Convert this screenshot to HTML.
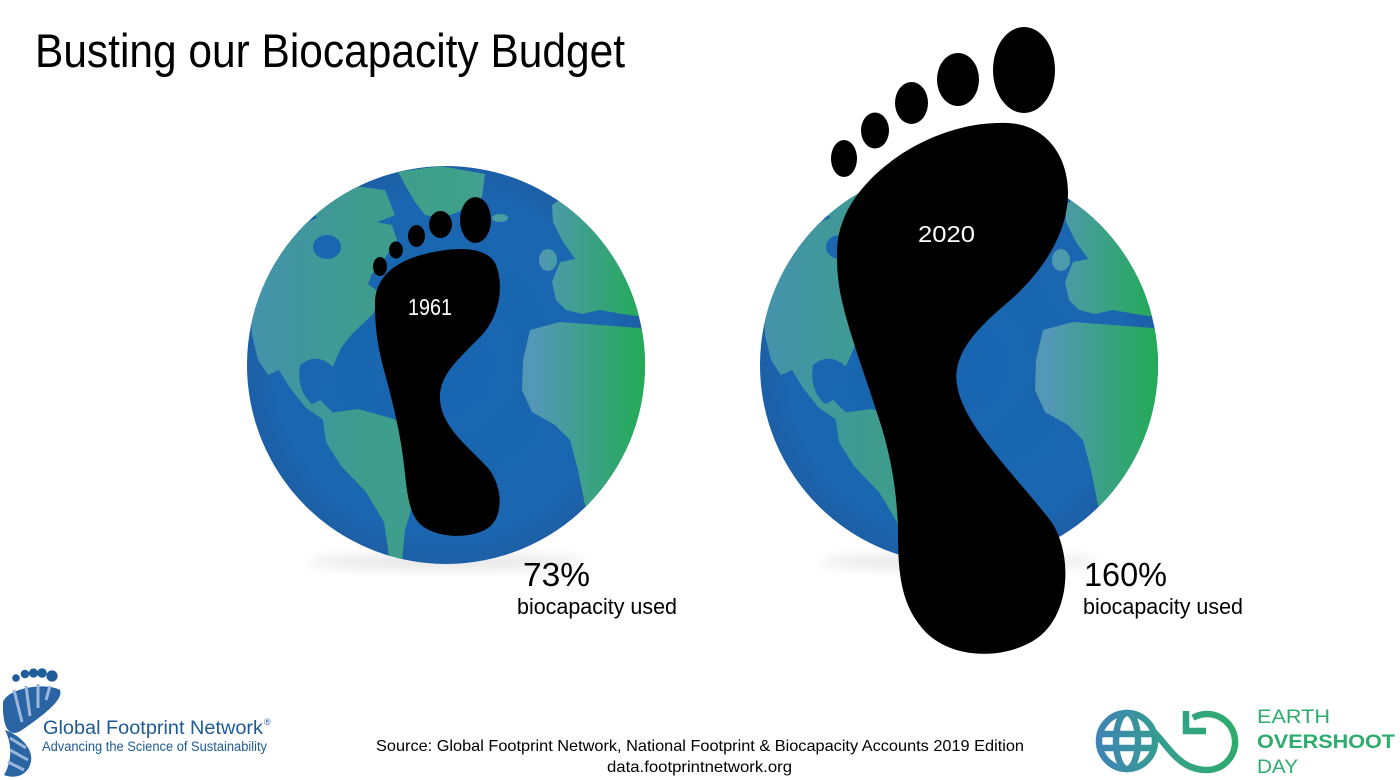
<!DOCTYPE html>
<html>
<head>
<meta charset="utf-8">
<style>
  html,body{margin:0;padding:0;background:#fff;}
  svg{display:block;}
  text{font-family:"Liberation Sans", sans-serif;}
</style>
</head>
<body>
<svg width="1400" height="780" viewBox="0 0 1400 780" xmlns="http://www.w3.org/2000/svg">
  <defs>
    <clipPath id="gc"><circle cx="446" cy="365" r="199"/></clipPath>
    <linearGradient id="land" x1="247" y1="0" x2="645" y2="0" gradientUnits="userSpaceOnUse">
      <stop offset="0" stop-color="#4592ad"/>
      <stop offset="0.3" stop-color="#3d9c8c"/>
      <stop offset="0.55" stop-color="#3fa18a"/>
      <stop offset="0.72" stop-color="#5497b8"/>
      <stop offset="1" stop-color="#22ab55"/>
    </linearGradient>
    <radialGradient id="ocean" cx="446" cy="365" r="199" gradientUnits="userSpaceOnUse">
      <stop offset="0" stop-color="#1866b1"/>
      <stop offset="0.85" stop-color="#1a66b0"/>
      <stop offset="1" stop-color="#1d5fa6"/>
    </radialGradient>
    <filter id="blur" x="-50%" y="-50%" width="200%" height="200%"><feGaussianBlur stdDeviation="6"/></filter>
    <linearGradient id="eod" x1="1097" y1="0" x2="1240" y2="0" gradientUnits="userSpaceOnUse">
      <stop offset="0" stop-color="#3f84b6"/>
      <stop offset="0.5" stop-color="#34a08a"/>
      <stop offset="1" stop-color="#2dac6a"/>
    </linearGradient>

    <g id="globe">
      <ellipse cx="446" cy="562" rx="140" ry="7" fill="#000" opacity="0.1" filter="url(#blur)"/>
      <circle cx="446" cy="365" r="199" fill="url(#ocean)"/>
      <g clip-path="url(#gc)" fill="url(#land)">
        <!-- Greenland -->
        <path d="M398 172 L440 166 L485 174 L482 197 L458 212 L442 218 L425 215 L415 202 L405 185 Z"/>
        <ellipse cx="500" cy="218" rx="8" ry="4"/>
        <!-- Arctic islands / Canada -->
        <path d="M300 195 L345 185 L385 190 L395 215 L370 225 L330 222 L305 212 Z"/>
        <!-- North America -->
        <path d="M258 262 L285 232 L323 215 L365 220 L392 225 L397 240 L385 258 L372 274 L368 284 L381 294 L373 314 L352 334 L341 348 L333 366 L320 374 L313 392 L326 406 L340 419 L330 424 L306 408 L290 388 L279 370 L268 375 L258 360 L252 335 L250 300 Z"/>
        <!-- South America -->
        <path d="M322 414 L358 409 L394 419 L418 440 L425 470 L414 500 L405 530 L402 562 L389 556 L384 522 L366 492 L341 466 L326 442 Z"/>
        <!-- Scandinavia / Russia -->
        <path d="M552 205 L575 190 L612 198 L642 232 L652 280 L640 300 L612 292 L592 278 L576 260 L563 242 L553 222 Z"/>
        <!-- UK -->
        <ellipse cx="548" cy="260" rx="9" ry="11"/>
        <!-- Europe mainland -->
        <path d="M560 262 L580 258 L600 270 L625 282 L650 292 L650 318 L622 314 L600 310 L582 314 L566 310 L556 300 L552 282 Z"/>
        <!-- Africa -->
        <path d="M530 330 L560 322 L600 325 L640 328 L650 335 L650 460 L635 495 L615 515 L595 525 L585 505 L578 470 L570 440 L555 425 L532 412 L522 390 L523 360 Z"/>
      </g>
      <!-- seas on land -->
      <g clip-path="url(#gc)" fill="#1a66b0">
        <ellipse cx="327" cy="247" rx="14" ry="12"/>
        <path d="M300 365 Q318 350 336 370 Q330 398 312 404 Q296 390 300 365 Z"/>
      </g>
    </g>
  </defs>

  <rect x="0" y="0" width="1400" height="780" fill="#fff"/>

  <!-- Title -->
  <text x="35" y="67" font-size="47" fill="#000" textLength="590" lengthAdjust="spacingAndGlyphs">Busting our Biocapacity Budget</text>

  <!-- Globes -->
  <use href="#globe"/>
  <use href="#globe" transform="translate(513,0)"/>

  <!-- Foot 1 -->
  <g fill="#000">
    <path d="M375 305 C374 280 392 262 425 254 C455 246 488 246 496 265 C504 285 500 315 482 335 C460 358 438 375 440 400 C442 428 470 448 488 468 C504 488 503 518 488 528 C470 540 435 538 420 524 C408 512 407 490 404 465 C400 430 392 400 384 370 C377 345 375 325 375 305 Z"/>
    <ellipse cx="475.5" cy="220" rx="15.5" ry="23"/>
    <ellipse cx="440.5" cy="224.5" rx="11.5" ry="13.5"/>
    <ellipse cx="416.5" cy="236" rx="8.5" ry="11"/>
    <ellipse cx="396" cy="250" rx="7" ry="8.5"/>
    <ellipse cx="380" cy="266.5" rx="7" ry="9.5"/>
  </g>
  <text x="408" y="315" font-size="23" fill="#fff" textLength="44" lengthAdjust="spacingAndGlyphs">1961</text>

  <!-- Foot 2 -->
  <g fill="#000">
    <path d="M837 255 C836 215 862 180 903 153 C935 133 970 122 1007 123 C1045 124 1068 155 1068 193 C1068 235 1040 275 1007 303 C975 330 952 355 957 385 C963 425 1015 475 1050 520 C1072 550 1072 610 1040 636 C1010 660 950 662 922 628 C900 602 898 570 898 530 C897 490 890 450 877 413 C865 375 850 335 843 305 C838 285 837 270 837 255 Z"/>
    <ellipse cx="1024" cy="70" rx="31" ry="43"/>
    <ellipse cx="958" cy="79.5" rx="21" ry="26.5"/>
    <ellipse cx="911.5" cy="103" rx="16.5" ry="21"/>
    <ellipse cx="875" cy="130.5" rx="14" ry="18"/>
    <ellipse cx="844" cy="158.5" rx="13" ry="18.5"/>
  </g>
  <text x="918" y="242" font-size="23" fill="#fff" textLength="57" lengthAdjust="spacingAndGlyphs">2020</text>

  <!-- Percent labels -->
  <text x="523" y="586" font-size="33" fill="#000" textLength="67" lengthAdjust="spacingAndGlyphs">73%</text>
  <text x="517" y="614" font-size="22" fill="#000" textLength="160" lengthAdjust="spacingAndGlyphs">biocapacity used</text>
  <text x="1084" y="586" font-size="33" fill="#000" textLength="83" lengthAdjust="spacingAndGlyphs">160%</text>
  <text x="1083" y="614" font-size="22" fill="#000" textLength="160" lengthAdjust="spacingAndGlyphs">biocapacity used</text>

  <!-- Source -->
  <text x="376" y="751" font-size="16" fill="#000" textLength="648" lengthAdjust="spacingAndGlyphs">Source: Global Footprint Network, National Footprint &amp; Biocapacity Accounts 2019 Edition</text>
  <text x="607" y="772" font-size="16" fill="#000" textLength="185" lengthAdjust="spacingAndGlyphs">data.footprintnetwork.org</text>

  <!-- Global Footprint Network logo -->
  <g>
    <circle cx="16" cy="678" r="3.8" fill="#1f5c9a"/>
    <circle cx="25" cy="674" r="4.3" fill="#1f5c9a"/>
    <circle cx="33.5" cy="673" r="4.6" fill="#1f5c9a"/>
    <circle cx="42" cy="673" r="4.8" fill="#1f5c9a"/>
    <circle cx="52" cy="676" r="5.6" fill="#1f5c9a"/>
    <path d="M3 702 C8 688 45 682 60 690 C64 700 42 716 22 730 C12 737 2 733 3 702 Z" fill="#2a64a3"/>
    <path d="M14 690 L22 722 M26 686 L30 716 M38 684 L38 708 M50 686 L46 700" stroke="#9bb7dc" stroke-width="3"/>
    <path d="M5 730 C20 735 36 750 30 765 C26 776 14 779 4 775 C10 765 14 748 5 730 Z" fill="#2a64a3"/>
    <path d="M10 738 L26 748 M10 750 L28 760 M8 762 L24 770" stroke="#9bb7dc" stroke-width="3"/>
    <text x="43" y="734" font-size="19" fill="#1f5a96" textLength="220" lengthAdjust="spacingAndGlyphs">Global Footprint Network</text>
    <text x="264" y="725" font-size="9" fill="#1f5a96">®</text>
    <text x="42" y="751" font-size="13.5" fill="#1f5a96" textLength="225" lengthAdjust="spacingAndGlyphs">Advancing the Science of Sustainability</text>
  </g>

  <!-- Earth Overshoot Day logo -->
  <g fill="none" stroke="url(#eod)" stroke-width="6.5" stroke-linecap="butt">
    <circle cx="1127" cy="741" r="28"/>
    <ellipse cx="1127" cy="741" rx="11" ry="28"/>
    <line x1="1100" y1="734" x2="1154" y2="734"/>
    <line x1="1100" y1="748" x2="1154" y2="748"/>
    <path d="M1152 730 C1168 745 1178 770 1207 770 A28 28 0 1 0 1193 717.8"/>
    <polyline points="1186,711 1186,731 1206,731"/>
  </g>
  <text x="1257" y="723" font-size="19" fill="#2eac6d" textLength="73" lengthAdjust="spacingAndGlyphs">EARTH</text>
  <text x="1257" y="748" font-size="19" font-weight="bold" fill="#2eac6d" textLength="138" lengthAdjust="spacingAndGlyphs">OVERSHOOT</text>
  <text x="1257" y="773" font-size="19" fill="#2eac6d" textLength="41" lengthAdjust="spacingAndGlyphs">DAY</text>
</svg>
</body>
</html>
